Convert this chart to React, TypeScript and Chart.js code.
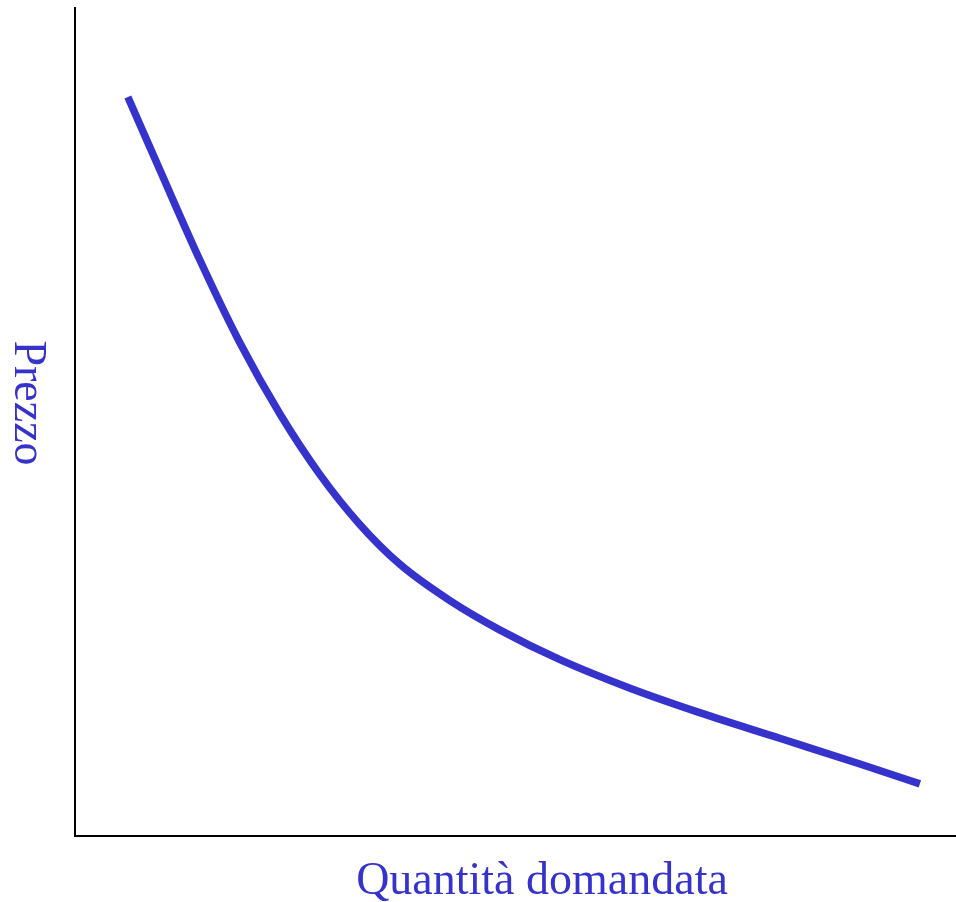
import React, { useEffect, useRef } from "react";
import { Chart, registerables } from "chart.js";

Chart.register(...registerables);

// Demand curve: quantity (x) vs price (y), arbitrary units 0–100
const quantity = [6.0, 9.65, 14.2, 18.7, 23.3, 27.8, 32.35, 36.9, 42.6, 48.2, 55.05, 63.0, 70.9, 80.0, 89.1, 95.9];
const price = [89.25, 80.4, 69.5, 59.6, 50.9, 43.65, 37.6, 32.8, 28.4, 24.9, 21.3, 17.85, 14.9, 11.8, 8.7, 6.3];

const xTitle = "Quantità domandata";
const yTitle = "Prezzo";

const BLUE = "#3632CC";
const FONT = '46px "Liberation Serif", "Times New Roman", serif';

const titlesPlugin = {
  id: "customTitles",
  afterDraw(chart: any) {
    const { ctx } = chart;
    ctx.save();
    ctx.fillStyle = BLUE;
    ctx.font = FONT;
    ctx.textAlign = "center";
    ctx.textBaseline = "alphabetic";
    ctx.fillText(xTitle, 542, 894);
    ctx.translate(15, 403);
    ctx.rotate(Math.PI / 2);
    ctx.fillText(yTitle, 0, 0);
    ctx.restore();
  },
};

export default function App() {
  const canvasRef = useRef<HTMLCanvasElement | null>(null);

  useEffect(() => {
    if (!canvasRef.current) return;
    const chart = new Chart(canvasRef.current, {
      type: "line",
      data: {
        datasets: [
          {
            data: quantity.map((q, i) => ({ x: q, y: price[i] })),
            borderColor: BLUE,
            borderWidth: 7.5,
            borderCapStyle: "butt",
            pointRadius: 0,
            fill: false,
            cubicInterpolationMode: "monotone",
          },
        ],
      },
      options: {
        animation: false,
        responsive: true,
        maintainAspectRatio: false,
        layout: { autoPadding: false, padding: { left: 75, top: 8, right: 0, bottom: 66 } },
        plugins: { legend: { display: false }, tooltip: { enabled: false } },
        events: [],
        scales: {
          x: {
            type: "linear",
            min: 0,
            max: 100,
            ticks: { display: false },
            grid: { display: false, drawTicks: false },
            border: { display: true, color: "#000", width: 2 },
          },
          y: {
            type: "linear",
            min: 0,
            max: 100,
            ticks: { display: false },
            grid: { display: false, drawTicks: false },
            border: { display: true, color: "#000", width: 2 },
          },
        },
      },
      plugins: [titlesPlugin],
    });
    return () => chart.destroy();
  }, []);

  return (
    <div style={{ position: "absolute", left: 0, top: 0, width: 956, height: 902 }}>
      <canvas ref={canvasRef} />
    </div>
  );
}
